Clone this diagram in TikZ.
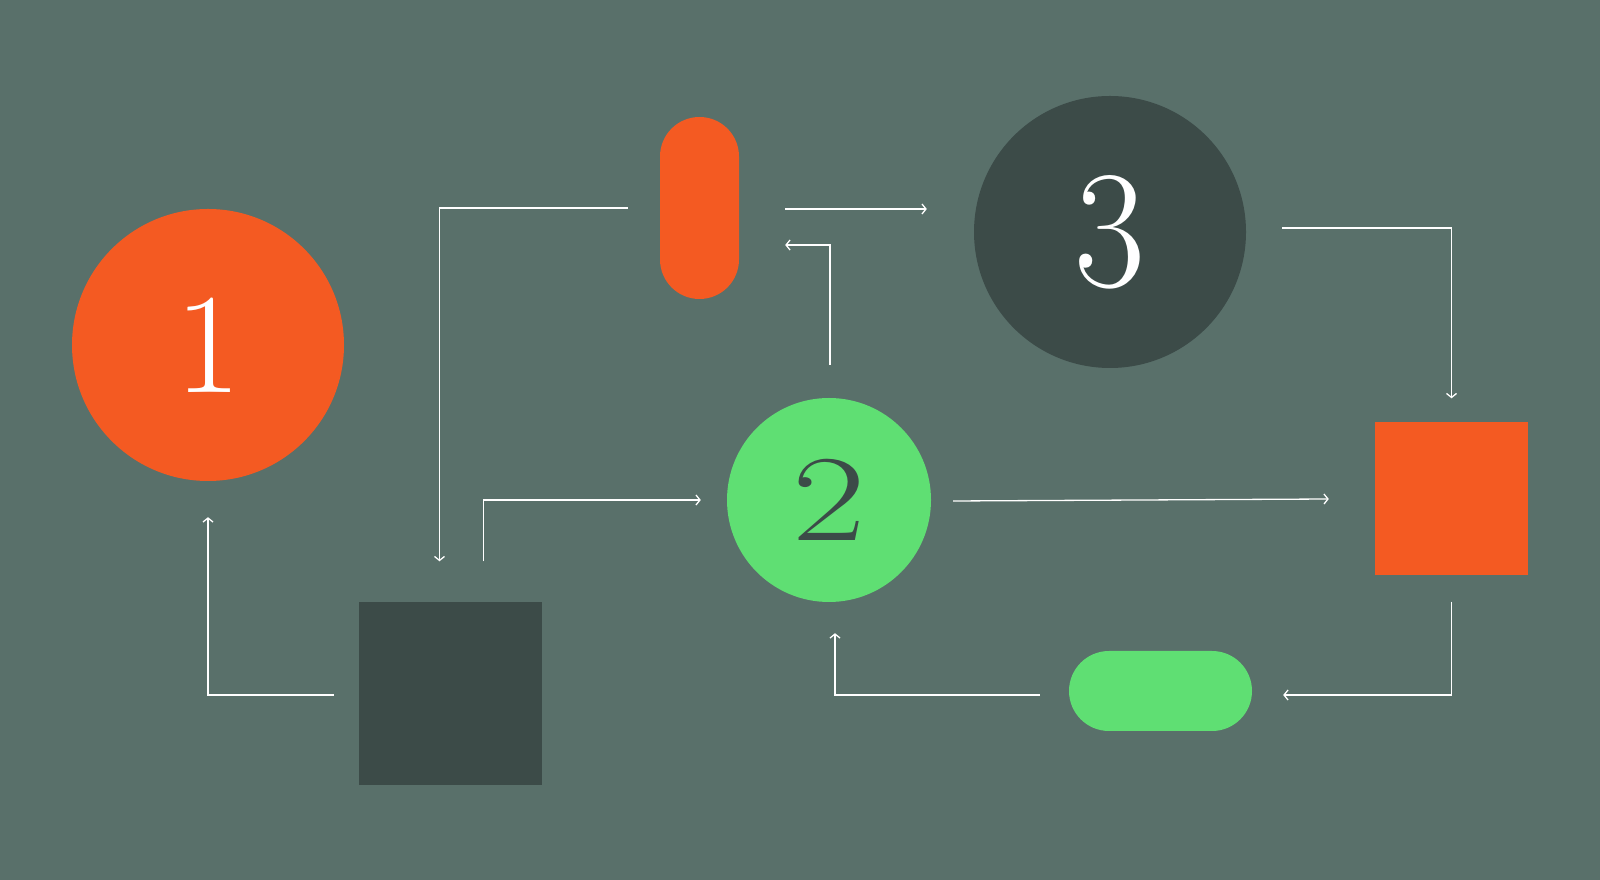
\documentclass[tikz,border=0pt]{standalone}
\usetikzlibrary{arrows.meta}
\definecolor{bgsage}{HTML}{59706A}
\definecolor{slate}{HTML}{3C4B48}
\definecolor{tangerine}{HTML}{F45A22}
\definecolor{mint}{HTML}{5FDF73}
\begin{document}
\begin{tikzpicture}[x=1pt,y=1pt,
    disc/.style={circle,inner sep=0pt,minimum size=#1},
    block/.style={rectangle,inner sep=0pt,minimum size=#1},
    pill/.style={rounded corners=39.5pt,inner sep=0pt},
    link/.style={white,line width=1.3pt,-{Straight Barb[length=4pt,width=10pt,line width=1.3pt]}}]
    \fill [bgsage] (0,0) rectangle (1600,880);
    % shapes
    \node [disc=272pt,fill=tangerine,text=white] (one) at (208,535) {\fontsize{143}{143}\selectfont 1};
    \node [disc=272pt,fill=slate,text=white] (three) at (1110,648) {\fontsize{168}{168}\selectfont \scalebox{0.92}[1]{3}};
    \node [disc=204pt,fill=mint,text=slate] (two) at (829,380) {\fontsize{123}{123}\selectfont \scalebox{1.3}[1]{2}};
    \node [pill,fill=tangerine,minimum width=79pt,minimum height=182pt] (tallpill) at (699.5,672) {};
    \node [pill,fill=mint,minimum width=183pt,minimum height=80pt,rounded corners=40pt] (widepill) at (1160.5,189) {};
    \node [block=153pt,fill=tangerine] (redbox) at (1451.5,381) {};
    \node [block=183pt,fill=slate] (darkbox) at (450.5,186) {};
    % connectors
    \draw [link] ([xshift=-32pt]tallpill.west) -| ([xshift=-11pt,yshift=41pt]darkbox.north);
    \draw [link] ([xshift=33pt,yshift=41pt]darkbox.north) |- ([xshift=-26pt]two.west);
    \draw [link] ([xshift=46pt,yshift=-1pt]tallpill.east) -- ([xshift=-47pt,yshift=23pt]three.west);
    \draw [link] ([xshift=1pt,yshift=33pt]two.north) |- ([xshift=46pt,yshift=-37pt]tallpill.east);
    \draw [link] ([xshift=36pt,yshift=4pt]three.east) -| ([yshift=24pt]redbox.north);
    \draw [link] ([xshift=22pt,yshift=-1pt]two.east) -- ([xshift=-46pt]redbox.west);
    \draw [link] ([yshift=-26pt]redbox.south) |- ([xshift=31pt,yshift=-4pt]widepill.east);
    \draw [link] ([xshift=-29pt,yshift=-4pt]widepill.west) -| ([xshift=6pt,yshift=-31pt]two.south);
    \draw [link] ([xshift=-25pt,yshift=-1pt]darkbox.west) -| ([yshift=-36pt]one.south);
\end{tikzpicture}
\end{document}
